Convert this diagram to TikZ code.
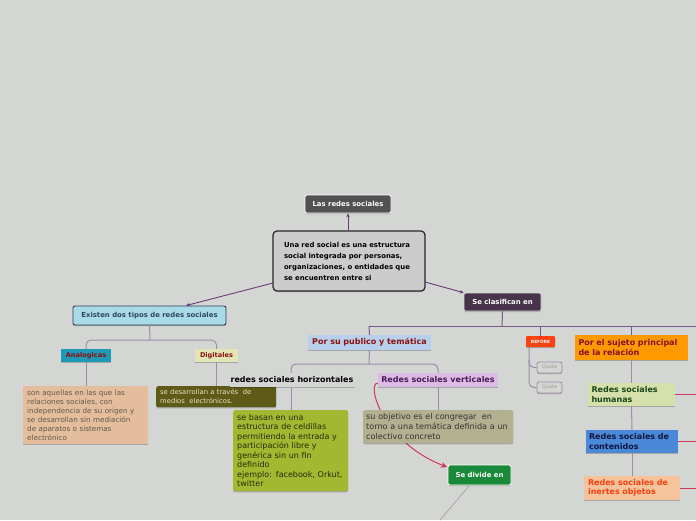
\documentclass[tikz,border=0pt]{standalone}
\usepackage{fontspec}
\setmainfont{DejaVu Sans}
\usetikzlibrary{shadows,arrows.meta}
\definecolor{bg}{HTML}{D4D6D3}
\definecolor{darkred}{HTML}{8B1010}
\definecolor{treeA}{HTML}{9C8CAC}
\definecolor{treeB}{HTML}{7A5A8A}
\definecolor{arrowP}{HTML}{6A3A7A}
\definecolor{redL}{HTML}{D03858}
\begin{document}
\begin{tikzpicture}[x=1pt,y=-1pt,
  box/.style={rounded corners=2pt, inner sep=0pt, align=center,
    general shadow={shadow yshift=-1.2pt, fill=black, opacity=.22}},
  tbox/.style={inner xsep=4pt, inner ysep=2pt, align=left, anchor=north west,
    general shadow={shadow yshift=-1.2pt, fill=black, opacity=.22}},
  fa/.style={font=\fontsize{6.9}{11}\selectfont\bfseries},
  fs/.style={font=\fontsize{6.6}{8}\selectfont\bfseries},
  fb/.style={font=\fontsize{8}{9.5}\selectfont\bfseries},
  ft/.style={font=\fontsize{7.2}{9}\selectfont},
  fd/.style={font=\fontsize{6.8}{9}\selectfont},
  fg/.style={font=\fontsize{8}{9.5}\selectfont},
  fv/.style={font=\fontsize{8.1}{10}\selectfont},
  tA/.style={draw=treeA, line width=1pt, rounded corners=5pt},
  tB/.style={draw=treeB, line width=1pt, rounded corners=5pt},
  pa/.style={draw=arrowP, line width=0.9pt, -{Stealth[length=4pt,width=3.5pt]}},
]
\fill[bg] (0,0) rectangle (696,520);
\useasboundingbox (0,0) rectangle (696,520);

% nodes
\node[box, fa, fill=black!68, draw=white, line width=0.8pt, text=white, minimum width=86pt, minimum height=18pt] (lrs) at (348,204) {Las redes sociales};
\node[box, fa, rounded corners=4pt, fill=black!20, draw=black!85, line width=1.2pt, minimum width=152pt, minimum height=60pt, align=left, text width=130pt] (central) at (349,261)
 {Una red social es una estructura\\social integrada por personas,\\organizaciones, o entidades que\\se encuentren entre si};
\node[box, fa, fill={rgb,255:red,168;green,218;blue,232}, draw={rgb,255:red,48;green,64;blue,80}, line width=0.9pt, text={rgb,255:red,48;green,72;blue,88}, minimum width=153pt, minimum height=19pt] (existen) at (149.5,315.5) {Existen dos tipos de redes sociales};
\node[box, fa, fill={rgb,255:red,71;green,52;blue,74}, draw=white!85!black, line width=0.6pt, text=white, minimum width=77pt, minimum height=18pt] (clas) at (502.5,302) {Se clasifican en};

\node[box, fs, rounded corners=0pt, fill={rgb,255:red,30;green,154;blue,184}, text=darkred, minimum width=50pt, minimum height=13pt] (analog) at (86,355.5) {Analogicas};
\node[box, fs, rounded corners=0pt, fill={rgb,255:red,226;green,230;blue,180}, text=darkred, minimum width=43pt, minimum height=13pt] (digit) at (216.5,355.5) {Digitales};

\node[tbox, ft, fill={rgb,255:red,228;green,190;blue,156}, text={rgb,255:red,100;green,88;blue,78}, text width=117pt, minimum height=58pt] (analogt) at (23,386)
 {son aquellas en las que las\\relaciones sociales, con\\independencia de su origen y\\se desarrollan sin mediación\\de aparatos o sistemas\\electrónico};
\node[tbox, fd, rounded corners=2pt, fill={rgb,255:red,94;green,90;blue,24}, text={rgb,255:red,232;green,228;blue,192}, text width=112pt, minimum height=21pt] (digitt) at (156,386)
 {se desarrollan a través\ \ de\\medios\ \ electrónicos.};

\node[box, fb, rounded corners=0pt, fill={rgb,255:red,184;green,208;blue,236}, text=darkred, minimum width=123pt, minimum height=15pt] (publico) at (369.5,342.5) {Por su publico y temática};
\node[box, fb, rounded corners=0pt, fill=bg, text=black, minimum width=125pt, minimum height=14pt] (horiz) at (292,380) {redes sociales horizontales};
\node[box, fb, rounded corners=0pt, fill={rgb,255:red,220;green,188;blue,228}, text={rgb,255:red,74;green,26;blue,90}, minimum width=120pt, minimum height=14pt] (vert) at (438,380) {Redes sociales verticales};

% red curved arrow (behind the text box)
\draw[draw=redL, line width=1pt, -{Stealth[length=6pt,width=6pt]}] (vert.west) ++(0,3) .. controls (366,383) and (382,442) .. (447,467);

\node[tbox, fg, rounded corners=2pt, fill={rgb,255:red,162;green,184;blue,48}, text={rgb,255:red,36;green,44;blue,12}, text width=107pt, minimum height=81pt] (horizt) at (233,410)
 {se basan en una\\estructura de celdillas\\permitiendo la entrada y\\participación libre y\\genérica sin un fin\\definido\\ejemplo: facebook, Orkut,\\twitter};
\node[tbox, fv, inner xsep=3pt, rounded corners=2pt, fill={rgb,255:red,178;green,176;blue,144}, text=black!80, text width=144pt, minimum height=33pt] (vertt) at (363,410)
 {su objetivo es el congregar\ \ en\\torno a una temática definida a un\\colectivo concreto};

\node[box, fa, fill={rgb,255:red,26;green,138;blue,58}, draw=white, line width=0.8pt, text=white, minimum width=63pt, minimum height=20pt] (divide) at (479.5,475) {Se divide en};

\node[box, rounded corners=1pt, font=\fontsize{4.3}{5}\selectfont\bfseries, fill={rgb,255:red,255;green,64;blue,16}, text=white, minimum width=29pt, minimum height=11pt] (before) at (540.5,341.5) {BEFORE};
\node[box, font=\fontsize{4.8}{5}\selectfont, fill=bg, draw=treeA, line width=0.8pt, text=black!40, minimum width=25pt, minimum height=11pt] (q1) at (549.5,367.5) {Quote};
\node[box, font=\fontsize{4.8}{5}\selectfont, fill=bg, draw=treeA, line width=0.8pt, text=black!40, minimum width=25pt, minimum height=11pt] (q2) at (549.5,387.5) {Quote};

% trees (drawn before boxes where they pass behind)
\draw[tB] (clas.south) -- (502,326) coordinate (cb);
\draw[tB, rounded corners=0pt] (369,326) coordinate (cl) -- (696,326) coordinate (cr);
\draw[tB] (cl) -- (publico.north);
\draw[tB] (540.5,326) -- (before.north);
\draw[tB] (631.5,326) coordinate (cs) -- (631.5,335);

\node[box, fb, rounded corners=0pt, fill={rgb,255:red,255;green,153;blue,0}, text=darkred, minimum width=113pt, minimum height=25pt, align=left, text width=106pt] (sujeto) at (631.5,347.5) {Por el sujeto principal\\de la relación};
\node[box, fb, rounded corners=0pt, fill={rgb,255:red,214;green,224;blue,170}, text={rgb,255:red,26;green,70;blue,26}, minimum width=87pt, minimum height=23pt, align=left, text width=80pt] (human) at (631.5,394.5) {Redes sociales\\humanas};
\node[box, fb, rounded corners=0pt, fill={rgb,255:red,74;green,136;blue,216}, text={rgb,255:red,16;green,24;blue,64}, minimum width=92pt, minimum height=23pt, align=left, text width=86pt] (conten) at (632,441.5) {Redes sociales de\\contenidos};
\node[box, fb, rounded corners=0pt, fill={rgb,255:red,246;green,196;blue,154}, text={rgb,255:red,255;green,64;blue,16}, minimum width=96pt, minimum height=24pt, align=left, text width=88pt] (inert) at (632,488) {Redes sociales de\\inertes objetos};

\draw[tA] (sujeto.south) -- (human.north);
\draw[tA] (human.south) -- (conten.north);
\draw[tA] (conten.south) -- (inert.north);
\draw[draw=redL, line width=1pt] (human.east) -- (696,394.5) coordinate (h1);
\draw[draw=redL, line width=1pt] (conten.east) -- (696,441.5) coordinate (h2);
\draw[draw=redL, line width=1pt] (inert.east) -- (696,488) coordinate (h3);

% left tree
\draw[tA] (existen.south) -- (150,340);
\draw[tA] (analog.north) |- (150,340) -| (digit.north);
\draw[tA] (analog.south) -- (analog.south |- analogt.north);
\draw[tA] (digit.south) -- (digit.south |- digitt.north);

% publico tree
\draw[tA] (publico.south) -- (369,364);
\draw[tA] (horiz.north -| 291,0) |- (369,364) -| (vert.north);
\draw[tA] (291,387) -- (291,410);
\draw[tA] (vert.south) -- (vert.south |- vertt.north);

% before tree
\draw[tA] (529,347) |- (q1.west);
\draw[tA] (529,360) |- (q2.west);

% central arrows
\draw[pa] (central.north -| lrs.south) -- (lrs.south);
\draw[pa] (273,283) -- (existen.north -| 186,0);
\draw[pa] (425,282) -- (clas.north west);

% line from divide
\draw[draw=black!35, line width=0.8pt] (divide.south) ++(-10,0) -- (440,520) coordinate (dend);
\end{tikzpicture}
\end{document}
